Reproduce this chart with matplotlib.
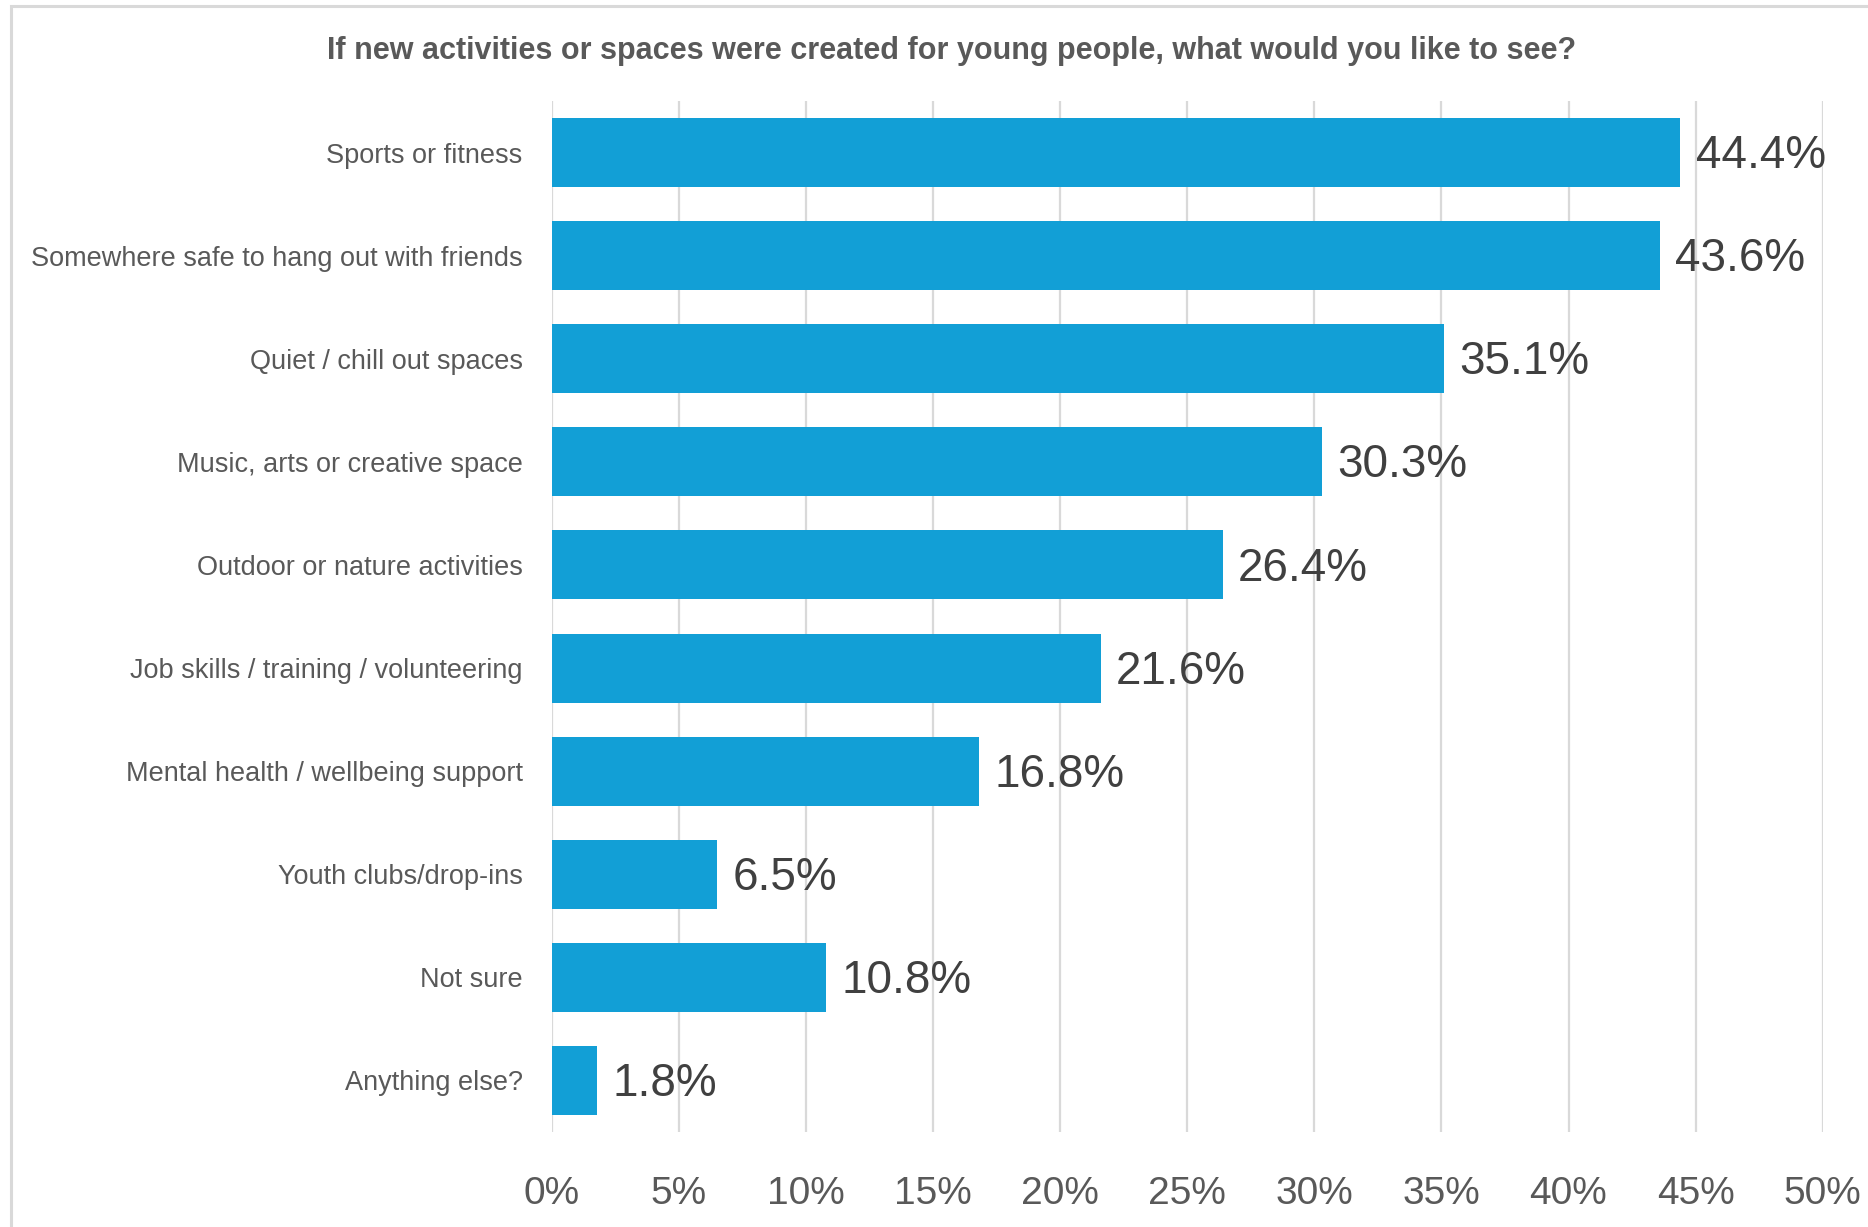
import matplotlib
matplotlib.use('Agg')
import matplotlib.pyplot as plt
from matplotlib.patches import Rectangle

categories = [
    'Sports or fitness',
    'Somewhere safe to hang out with friends',
    'Quiet / chill out spaces',
    'Music, arts or creative space',
    'Outdoor or nature activities',
    'Job skills / training / volunteering',
    'Mental health / wellbeing support',
    'Youth clubs/drop-ins',
    'Not sure',
    'Anything else?',
]
values = [44.4, 43.6, 35.1, 30.3, 26.4, 21.6, 16.8, 6.5, 10.8, 1.8]
xticks = [0, 5, 10, 15, 20, 25, 30, 35, 40, 45, 50]
title = 'If new activities or spaces were created for young people, what would you like to see?'

bar_color = '#129FD6'
text_color = '#595959'
grid_color = '#D9D9D9'

plt.rcParams['font.family'] = ['Liberation Sans', 'DejaVu Sans']

fig = plt.figure(figsize=(18.68, 12.27), dpi=100)
W, H = 1868, 1227

# outer chart border (cut off at right and bottom like the reference)
fig.patches.append(Rectangle((11 / W, -0.05), 1.2, (1227 - 6) / H + 0.05,
                             transform=fig.transFigure, fill=False,
                             edgecolor=grid_color, linewidth=2.2))

ax = fig.add_axes([551.7 / W, (H - 1132) / H, (1822.7 - 551.7) / W, (1132 - 101) / H])

ypos = list(range(len(categories)))
ax.barh(ypos, values, height=0.67, color=bar_color, zorder=2)

# value labels, nudged a little down to sit like Excel's
for y, v in zip(ypos, values):
    ax.text(v + 0.6, y + 0.035, f'{v:.1f}%', va='center', ha='left',
            fontsize=33, color='#404040', zorder=3)

ax.set_xlim(0, 50)
ax.set_ylim(len(categories) - 0.5, -0.5)
ax.set_yticks(ypos)
ax.set_yticklabels(categories, fontsize=19.5, color=text_color)
ax.set_xticks(xticks)
ax.set_xticklabels([f'{t}%' for t in xticks], fontsize=28, color=text_color)
ax.tick_params(axis='y', length=0, pad=21)
ax.tick_params(axis='x', length=0, pad=32)

ax.grid(axis='x', color=grid_color, linewidth=1.6)
ax.set_axisbelow(True)
for s in ax.spines.values():
    s.set_visible(False)

fig.text(952 / W, 1 - 51 / H, title, ha='center', va='center',
         fontsize=22, fontweight='bold', color=text_color)

fig.savefig('out.png', dpi=100)
